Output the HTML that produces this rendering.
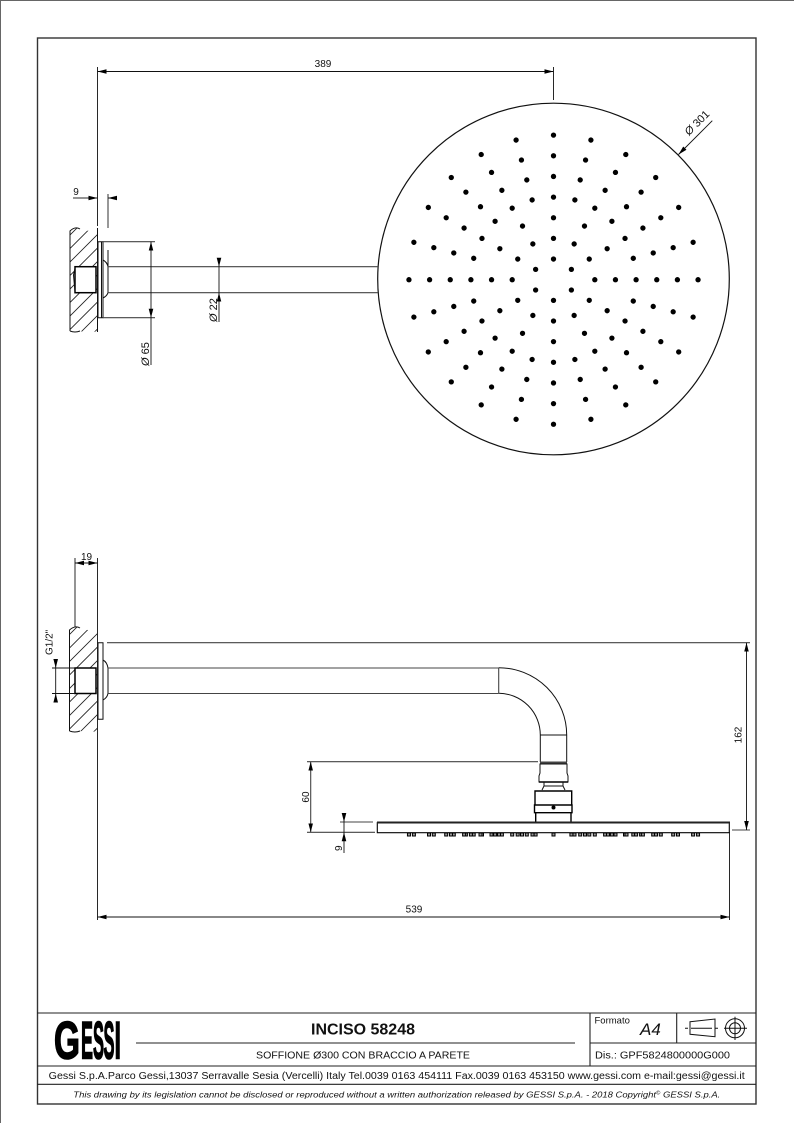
<!DOCTYPE html>
<html><head><meta charset="utf-8"><style>
html,body{margin:0;padding:0;background:#fff}
svg{display:block}
text{font-family:"Liberation Sans",sans-serif;fill:#111}
.l{stroke:#111;stroke-width:1;fill:none}
.g{stroke:#444;stroke-width:1.1;fill:none}
.t{stroke:#000;stroke-width:1.4;fill:none}
.h{stroke:#222;stroke-width:.85;fill:none}
.d{stroke:#111;stroke-width:.9;fill:none}
.ar{marker-start:url(#a);marker-end:url(#a)}
.ae{marker-end:url(#a)}
.n{fill:#999;stroke:#000;stroke-width:1}
.logo{font-weight:bold;font-size:53px;fill:#000;stroke:#000;stroke-width:1.600}
</style></head><body>
<svg width="794" height="1123" viewBox="0 0 794 1123" xmlns="http://www.w3.org/2000/svg">
<defs>
<marker id="a" markerUnits="userSpaceOnUse" markerWidth="9" markerHeight="5" refX="9" refY="2.500" orient="auto-start-reverse"><path d="M0 .2L9 2.500L0 4.800z" fill="#000"/></marker>
<g id="s"><circle cy="-41.3" r="2.650"/><circle cy="-61.95" r="2.650"/><circle cy="-82.6" r="2.650"/><circle cy="-103.25" r="2.650"/><circle cy="-123.9" r="2.650"/><circle cy="-144.55" r="2.650"/></g>
<g id="t"><circle cy="-82.6" r="2.650"/><circle cy="-103.25" r="2.650"/><circle cy="-123.9" r="2.650"/><circle cy="-144.55" r="2.650"/></g>
<clipPath id="c1"><path d="M70 231Q75 226 80 229Q88 233 97.500 228V331Q88 334 80 331Q75 329 70 331z"/></clipPath>
<clipPath id="c2"><path d="M69.500 630Q75 625 80 628Q88 632 97.500 628V731Q88 733 80 731Q75 729 69.500 731z"/></clipPath>
<rect id="nz" x="-1.500" y="833" width="3" height="3" class="n"/>
</defs>

<path d="M.5 1123V.5H794" stroke="#666" stroke-width="1" fill="none"/>
<rect x="37.500" y="38" width="718.500" height="1066" fill="none" stroke="#333" stroke-width="1.400"/>

<!-- TOP VIEW -->
<line x1="97.500" y1="71.500" x2="553.500" y2="71.500" class="d ar"/>
<path class="d" d="M97.500 67V226M553.500 67V100"/>
<text x="323" y="67" font-size="10" text-anchor="middle">389</text>

<circle cx="553.500" cy="279" r="175.800" fill="none" stroke="#111" stroke-width="1.200"/>
<g transform="translate(553.500 279.700)" fill="#000">
<use href="#s"/><use href="#s" transform="rotate(30)"/><use href="#s" transform="rotate(60)"/><use href="#s" transform="rotate(90)"/><use href="#s" transform="rotate(120)"/><use href="#s" transform="rotate(150)"/><use href="#s" transform="rotate(180)"/><use href="#s" transform="rotate(210)"/><use href="#s" transform="rotate(240)"/><use href="#s" transform="rotate(270)"/><use href="#s" transform="rotate(300)"/><use href="#s" transform="rotate(330)"/>
<use href="#t" transform="rotate(15)"/><use href="#t" transform="rotate(45)"/><use href="#t" transform="rotate(75)"/><use href="#t" transform="rotate(105)"/><use href="#t" transform="rotate(135)"/><use href="#t" transform="rotate(165)"/><use href="#t" transform="rotate(195)"/><use href="#t" transform="rotate(225)"/><use href="#t" transform="rotate(255)"/><use href="#t" transform="rotate(285)"/><use href="#t" transform="rotate(315)"/><use href="#t" transform="rotate(345)"/>
<circle cy="-20.650" r="2.650"/><circle cx="17.880" cy="-10.320" r="2.650"/><circle cx="17.880" cy="10.320" r="2.650"/><circle cy="20.650" r="2.650"/><circle cx="-17.880" cy="10.320" r="2.650"/><circle cx="-17.880" cy="-10.320" r="2.650"/>
</g>
<line x1="712.300" y1="120.700" x2="678.500" y2="154.500" class="d ae"/>
<text transform="translate(689 136) rotate(-45)" font-size="11"><tspan font-style="italic">Ø</tspan> 301</text>

<path class="h" clip-path="url(#c1)" d="M40 265L110 195M40 278.500L110 208.500M40 292L110 222M40 305.500L110 235.500M40 319L110 249M40 332.500L110 262.500M40 346L110 276M40 359.500L110 289.500M40 373L110 303M40 386.500L110 316.500M40 400L110 330M40 413.500L110 343.500"/>
<path class="l" d="M70 331V231Q75 226 80 229M80 331Q75 333 70 331"/>
<path class="l" d="M97.500 228V332"/>
<rect x="75" y="266.700" width="21" height="26" fill="#fff" stroke="#000" stroke-width="1.500"/>
<path class="l" d="M75 268L73.500 275L75 292"/>
<path class="l" d="M98 241.700H103V317.700H98zM101.500 241.700V317.700"/>
<path class="g" d="M103 241.700H155M103 317.700H155"/>
<path class="l" d="M103 260Q107 262 108 266.700V292.700Q107 296 103 298M108 250V266"/>
<path class="g" d="M108 194V228"/>
<path class="g" d="M108 266.700H378M108 292.700H378"/>
<path class="d" d="M73 198H89"/>
<line x1="88" y1="198" x2="97.500" y2="198" class="d ae"/>
<line x1="117" y1="198" x2="108" y2="198" class="d ae"/>
<text x="76" y="195" font-size="10" text-anchor="middle">9</text>
<line x1="151" y1="241.700" x2="151" y2="317.700" class="d ar"/>
<path class="d" d="M151 317.700V365"/>
<text transform="translate(149 366) rotate(-90)" font-size="11"><tspan font-style="italic">Ø</tspan> 65</text>
<line x1="219" y1="258" x2="219" y2="266.700" class="d ae"/>
<line x1="219" y1="322" x2="219" y2="292.700" class="d ae"/>
<path class="d" d="M219 266.700V292.700"/>
<text transform="translate(217 322) rotate(-90)" font-size="11"><tspan font-style="italic">Ø</tspan> 22</text>

<!-- SIDE VIEW -->
<path class="d" d="M97.500 558V920M75 558V627"/>
<line x1="75" y1="563" x2="97.500" y2="563" class="d ar"/>
<text x="86.500" y="560" font-size="10" text-anchor="middle">19</text>
<path class="h" clip-path="url(#c2)" d="M40 664L110 594M40 677.500L110 607.500M40 691L110 621M40 704.500L110 634.500M40 718L110 648M40 731.500L110 661.500M40 745L110 675M40 758.500L110 688.500M40 772L110 702M40 785.500L110 715.500M40 799L110 729M40 812.500L110 742.500"/>
<path class="l" d="M69.500 731V630Q75 625 80 628M80 731Q75 733 69.500 731"/>
<rect x="75" y="668" width="21" height="25.500" fill="#fff" stroke="#000" stroke-width="1.500"/>
<path class="l" d="M98 642.700H103V719.300H98zM103 660Q107 662 108 668V693.500Q107 698 103 700"/>
<path class="g" d="M107 642.700H750M108 668H498.700M108 693.500H498.700"/>
<path class="d" d="M52 668H75M52 693.500H75"/>
<line x1="55.700" y1="659" x2="55.700" y2="668" class="d ae"/>
<line x1="55.700" y1="702" x2="55.700" y2="693.500" class="d ae"/>
<path class="d" d="M55.700 668V693.500"/>
<text transform="translate(52.500 655) rotate(-90)" font-size="10">G1/2"</text>

<path class="l" d="M498.700 667.700A68 67.300 0 0 1 566.700 735M498.700 693.300A41.600 41.700 0 0 1 540.300 735"/>
<path class="g" d="M498.700 667.700V693.300"/>
<path class="l" d="M540.300 735H566.700M540.300 735V762M566.700 735V762"/>
<path class="g" d="M540 762.500H567" style="stroke-width:2"/>
<path class="l" d="M540 764H567V773L568 776V782H539V776L540 773z"/>
<path class="t" d="M539 782H568"/>
<path class="l" d="M544 782V786L542 790M563 782V786L565 790M544 786H563"/>
<path class="t" d="M535 791H571.700V805H535zM534.500 805H572V812.700H534.500zM535.700 812.700V823M571 812.700V823"/>
<circle cx="553.500" cy="807.500" r="2" fill="#000"/>

<rect x="377.300" y="822.700" width="352" height="10" fill="#fff" stroke="#000" stroke-width="1.100"/>
<path d="M377 822.500H730" stroke="#222" stroke-width="2"/>
<g transform="translate(553.500 0)">
<use href="#nz"/><use href="#nz" x="17.900"/><use href="#nz" x="21"/><use href="#nz" x="26.700"/><use href="#nz" x="31.500"/><use href="#nz" x="35.800"/><use href="#nz" x="41.300"/><use href="#nz" x="51.600"/><use href="#nz" x="54.500"/><use href="#nz" x="58.400"/><use href="#nz" x="62"/><use href="#nz" x="71.500"/><use href="#nz" x="73"/><use href="#nz" x="79.800"/><use href="#nz" x="82.600"/><use href="#nz" x="87.600"/><use href="#nz" x="89.400"/><use href="#nz" x="99.700"/><use href="#nz" x="102.500"/><use href="#nz" x="107.300"/><use href="#nz" x="119.700"/><use href="#nz" x="124.500"/><use href="#nz" x="139.600"/><use href="#nz" x="144.550"/>
<use href="#nz" x="-17.900"/><use href="#nz" x="-21"/><use href="#nz" x="-26.700"/><use href="#nz" x="-31.500"/><use href="#nz" x="-35.800"/><use href="#nz" x="-41.300"/><use href="#nz" x="-51.600"/><use href="#nz" x="-54.500"/><use href="#nz" x="-58.400"/><use href="#nz" x="-62"/><use href="#nz" x="-71.500"/><use href="#nz" x="-73"/><use href="#nz" x="-79.800"/><use href="#nz" x="-82.600"/><use href="#nz" x="-87.600"/><use href="#nz" x="-89.400"/><use href="#nz" x="-99.700"/><use href="#nz" x="-102.500"/><use href="#nz" x="-107.300"/><use href="#nz" x="-119.700"/><use href="#nz" x="-124.500"/><use href="#nz" x="-139.600"/><use href="#nz" x="-144.550"/>
</g>
<rect x="552" y="833" width="3" height="3" class="n"/>

<path class="g" d="M307 761.700H538M307 832.300H375"/>
<line x1="310.700" y1="761.700" x2="310.700" y2="832.300" class="g ar"/>
<text transform="translate(309 797) rotate(-90)" font-size="10" text-anchor="middle">60</text>
<path class="g" d="M340 822H373"/>
<line x1="344" y1="813" x2="344" y2="822" class="d ae"/>
<line x1="344" y1="853" x2="344" y2="832.300" class="d ae"/>
<path class="d" d="M344 822V832.300"/>
<text transform="translate(342 851) rotate(-90)" font-size="10">9</text>

<path class="g" d="M732 830H750"/>
<line x1="746.500" y1="642.700" x2="746.500" y2="830" class="d ar"/>
<text transform="translate(741.500 735) rotate(-90)" font-size="10" text-anchor="middle">162</text>
<path class="d" d="M729.500 832V920"/>
<line x1="97.500" y1="917" x2="729.500" y2="917" class="d ar"/>
<text x="414" y="912.500" font-size="10" text-anchor="middle">539</text>

<!-- TITLE BLOCK -->
<path stroke="#222" stroke-width="1.100" fill="none" d="M37 1013H756M37 1066H756M37 1084.300H756M590 1013V1066M676.700 1013V1043M590 1043H756M136 1043H575"/>
<text class="logo" x="54" y="1058.500" textLength="26" lengthAdjust="spacingAndGlyphs">G</text>
<text class="logo" x="81" y="1058.500" textLength="12" lengthAdjust="spacingAndGlyphs">E</text>
<text class="logo" x="93" y="1058.500" textLength="11" lengthAdjust="spacingAndGlyphs">S</text>
<text class="logo" x="103.500" y="1058.500" textLength="11" lengthAdjust="spacingAndGlyphs">S</text>
<text class="logo" x="114.500" y="1058.500" textLength="6.500" lengthAdjust="spacingAndGlyphs">I</text>
<text x="311" y="1034.500" font-size="15.500" font-weight="bold" textLength="104" lengthAdjust="spacingAndGlyphs">INCISO 58248</text>
<text x="256" y="1058.500" font-size="10" textLength="214" lengthAdjust="spacingAndGlyphs">SOFFIONE Ø300 CON BRACCIO A PARETE</text>
<text x="594.500" y="1023.500" font-size="9.500">Formato</text>
<text x="640" y="1035" font-size="17" font-style="italic">A4</text>
<text x="595" y="1058.500" font-size="10.500" textLength="135" lengthAdjust="spacingAndGlyphs">Dis.: GPF5824800000G000</text>
<text x="48.700" y="1079" font-size="9.700" textLength="696" lengthAdjust="spacingAndGlyphs">Gessi S.p.A.Parco Gessi,13037 Serravalle Sesia (Vercelli) Italy Tel.0039 0163 454111 Fax.0039 0163 453150 www.gessi.com e-mail:gessi@gessi.it</text>
<text x="73.300" y="1097.300" font-size="8.200" font-style="italic" textLength="647" lengthAdjust="spacingAndGlyphs">This drawing by its legislation cannot be disclosed or reproduced without a written authorization released by GESSI S.p.A. - 2018 Copyright<tspan font-size="5" dy="-3">©</tspan><tspan dy="3"> GESSI S.p.A.</tspan></text>
<path class="l" d="M690 1021.700L715 1019V1036.700L690 1034.300z"/>
<path class="l" d="M685 1028.300H688M691 1028.300H712M715 1028.300H718"/>
<circle cx="735" cy="1028.300" r="9.500" class="l"/><circle cx="735" cy="1028.300" r="5.500" class="l"/>
<path class="l" d="M724 1028.300H747M735 1016.700V1040"/>
</svg>
</body></html>
